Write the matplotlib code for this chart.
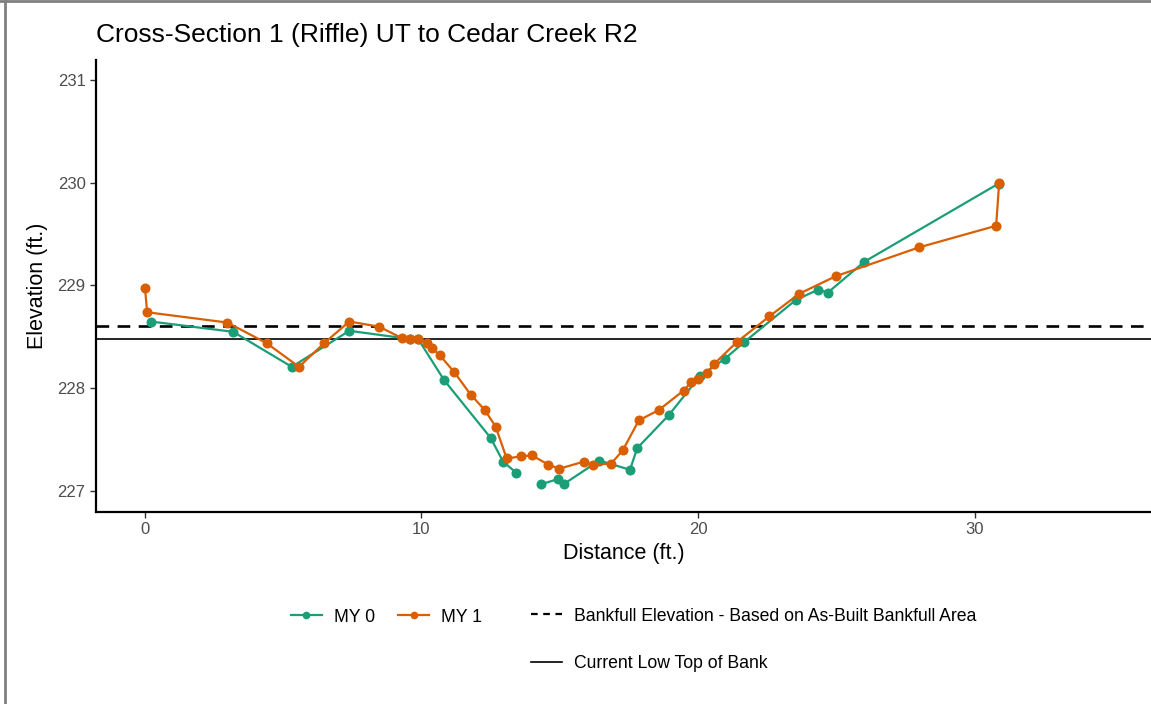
import numpy as np
import matplotlib
matplotlib.use("Agg")
import matplotlib.pyplot as plt
from matplotlib.lines import Line2D

plt.rcParams['font.family'] = ['Liberation Sans', 'DejaVu Sans']

title = "Cross-Section 1 (Riffle) UT to Cedar Creek R2"
xlabel = "Distance (ft.)"
ylabel = "Elevation (ft.)"
series_names = ["MY 0", "MY 1"]
bankfull_label = "Bankfull Elevation - Based on As-Built Bankfull Area"
lowbank_label = "Current Low Top of Bank"

my0_x = [0.21, 3.19, 5.31, 7.39, 9.58, 9.88, 10.82, 12.50, 12.95, 13.43, np.nan,
         14.33, 14.94, 15.14, 16.43, 17.54, 17.80, 18.94, 20.07, 20.98, 21.67,
         23.54, 24.35, 24.69, 26.01, 30.87]
my0_y = [228.65, 228.55, 228.21, 228.56, 228.48, 228.48, 228.08, 227.52, 227.29, 227.18, np.nan,
         227.07, 227.12, 227.07, 227.30, 227.21, 227.42, 227.74, 228.12, 228.29, 228.45,
         228.86, 228.96, 228.93, 229.23, 229.99]

my1_x = [0.00, 0.08, 2.98, 4.40, 5.57, 6.48, 7.39, 8.47, 9.28, 9.58, 9.88, 10.19,
         10.39, 10.67, 11.18, 11.78, 12.29, 12.68, 13.08, 13.59, 13.99, 14.59,
         14.98, 15.88, 16.19, 16.86, 17.28, 17.86, 18.58, 19.48, 19.75, 20.01,
         20.34, 20.59, 21.40, 22.58, 23.66, 24.98, 27.99, 30.78, 30.89]
my1_y = [228.98, 228.74, 228.64, 228.44, 228.21, 228.44, 228.65, 228.60, 228.49, 228.48, 228.48, 228.44,
         228.39, 228.32, 228.16, 227.94, 227.79, 227.63, 227.32, 227.34, 227.35, 227.26,
         227.22, 227.29, 227.26, 227.27, 227.40, 227.69, 227.79, 227.98, 228.06, 228.09,
         228.15, 228.24, 228.45, 228.70, 228.92, 229.09, 229.37, 229.58, 230.00]

bankfull_elev = 228.61
low_bank_elev = 228.48

x_ticks = [0, 10, 20, 30]
y_ticks = [227, 228, 229, 230, 231]

green = "#1b9e77"
orange = "#d95f02"

W, H = 1151, 704
fig = plt.figure(figsize=(W / 100, H / 100), dpi=100)
ax = fig.add_axes([96 / W, 1 - 512 / H, (W - 96) / W, (512 - 60) / H])

ax.axhline(bankfull_elev, color="black", lw=1.9, ls=(0, (4.8, 3.2)), zorder=1)
ax.axhline(low_bank_elev, color="black", lw=1.2, zorder=1)
ax.plot(my0_x, my0_y, color=green, lw=1.6, marker="o", ms=6.2, zorder=3)
ax.plot(my1_x, my1_y, color=orange, lw=1.6, marker="o", ms=6.2, zorder=4)

ax.set_xlim(-1.77, 36.38)
ax.set_ylim(226.80, 231.19)
ax.set_xticks(x_ticks)
ax.set_yticks(y_ticks)
for s in ["top", "right"]:
    ax.spines[s].set_visible(False)
for s in ["left", "bottom"]:
    ax.spines[s].set_linewidth(1.6)
ax.tick_params(axis="both", length=4, width=1, color="#333333", labelcolor="#4d4d4d", labelsize=12)

ax.set_xlabel(xlabel, fontsize=15.5, color="black")
ax.xaxis.set_label_coords(0.5, -(553 - 512) / (512 - 60), transform=ax.transAxes)
ax.xaxis.label.set_va("center")
ax.set_ylabel(ylabel, fontsize=15.5, color="black")
ax.yaxis.set_label_coords(-(96 - 38) / (W - 96), 0.5, transform=ax.transAxes)
ax.yaxis.label.set_va("center")

fig.text(96 / W, 1 - 35 / H, title, fontsize=19, va="center", ha="left")

# legends
h_series = [Line2D([], [], color=green, lw=1.6, marker="o", ms=4.5),
            Line2D([], [], color=orange, lw=1.6, marker="o", ms=4.5)]
fig.legend(h_series, series_names, loc="center left", bbox_to_anchor=(275 / W, 1 - 617 / H),
           ncol=2, frameon=False, fontsize=12.7, handlelength=1.75, columnspacing=1.3,
           handletextpad=0.7)
h_lines = [Line2D([], [], color="black", lw=1.6, ls=(0, (3, 2.5))),
           Line2D([], [], color="black", lw=1.2)]
fig.legend(h_lines, [bankfull_label, lowbank_label], loc="center left",
           bbox_to_anchor=(515 / W, 1 - 640 / H), ncol=1, frameon=False, fontsize=12.7,
           handlelength=1.75, handletextpad=0.7, labelspacing=1.75)

# outer image frame
fig.add_artist(Line2D([4.5 / W, 4.5 / W], [0, 1], transform=fig.transFigure, color="#808080", lw=2))
fig.add_artist(Line2D([0, 1], [1 - 1 / H, 1 - 1 / H], transform=fig.transFigure, color="#808080", lw=2))

fig.savefig("out.png", dpi=100)
